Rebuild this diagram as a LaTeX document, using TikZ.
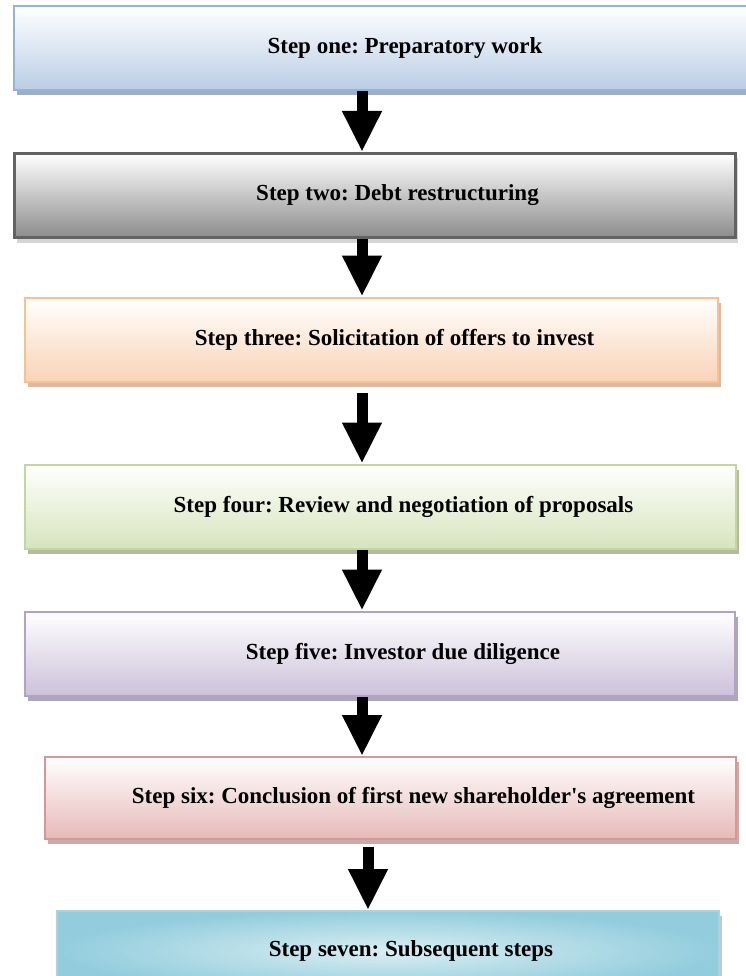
\documentclass[tikz,border=0pt]{standalone}
\usepackage{fontspec}
\setmainfont{Liberation Serif}
\usetikzlibrary{arrows.meta,shadows}
\definecolor{BlueLine}{HTML}{95B3D7}
\definecolor{BlueFill}{HTML}{B9CDE5}
\definecolor{GreyLine}{HTML}{626262}
\definecolor{GreyFill}{HTML}{8C8C8C}
\definecolor{PeachLine}{HTML}{FAC090}
\definecolor{PeachFill}{HTML}{F9D3B6}
\definecolor{LeafLine}{HTML}{C3D69B}
\definecolor{LeafFill}{HTML}{D7E4BD}
\definecolor{LilacLine}{HTML}{B3A2C7}
\definecolor{LilacFill}{HTML}{CCC1DA}
\definecolor{RoseLine}{HTML}{D99694}
\definecolor{RoseFill}{HTML}{E6B9B8}
\definecolor{AquaLine}{HTML}{A5D5E2}
\definecolor{AquaFill}{HTML}{93CDDD}
\definecolor{AquaGlow}{HTML}{DAEEF3}
\frenchspacing
\begin{document}
\begin{tikzpicture}[x=1pt,y=-1pt,
  stepbox/.style={line width=2pt,minimum height=84pt,inner sep=0pt,top color=white,
    font=\fontsize{23}{27}\selectfont\bfseries,execute at begin node=\hspace*{46pt}},
  boxshadow/.style={drop shadow={shadow xshift=3pt,shadow yshift=-5pt,opacity=.55,fill=#1}},
  flow/.style={-{Triangle[length=41pt,width=37pt]},line width=11pt,draw=black}]
\useasboundingbox (0,0) rectangle (745,976);
\node[stepbox,draw=BlueLine,bottom color=BlueFill,boxshadow=BlueLine!60!black,minimum width=736pt](one) at (382,48.5){Step one: Preparatory work};
\node[stepbox,draw=GreyLine,line width=3pt,bottom color=GreyFill,boxshadow=black!30,minimum width=721pt](two) at (374.5,195.5){Step two: Debt restructuring};
\node[stepbox,draw=PeachLine,bottom color=PeachFill,boxshadow=PeachLine!70!black,minimum width=693pt](three) at (371.5,339.5){Step three: Solicitation of offers to invest};
\node[stepbox,draw=LeafLine,bottom color=LeafFill,boxshadow=LeafLine!60!black,minimum width=711pt](four) at (380.5,506.5){Step four: Review and negotiation of proposals};
\node[stepbox,draw=LilacLine,bottom color=LilacFill,boxshadow=LilacLine!60!black,minimum width=710pt](five) at (380,653.5){Step five: Investor due diligence};
\node[stepbox,draw=RoseLine,bottom color=RoseFill,boxshadow=RoseLine!70!black,minimum width=691pt,minimum height=82pt](six) at (390.5,798){Step six: Conclusion of first new shareholder\textquotesingle s agreement};
\node[stepbox,draw=AquaLine,inner color=AquaGlow,outer color=AquaFill,boxshadow=black!40,minimum width=662pt,minimum height=80pt](seven) at (388,951){Step seven: Subsequent steps};
\coordinate (axis) at (362,0);\coordinate (axis2) at (368,0);
\draw[flow](one.south -| axis)--(two.north -| axis);
\draw[flow](two.south -| axis)--(three.north -| axis);
\draw[flow,shorten <=10pt](three.south -| axis)--(four.north -| axis);
\draw[flow](four.south -| axis)--(five.north -| axis);
\draw[flow](five.south -| axis)--(six.north -| axis);
\draw[flow,shorten <=7pt](six.south -| axis2)--(seven.north -| axis2);
\end{tikzpicture}
\end{document}
